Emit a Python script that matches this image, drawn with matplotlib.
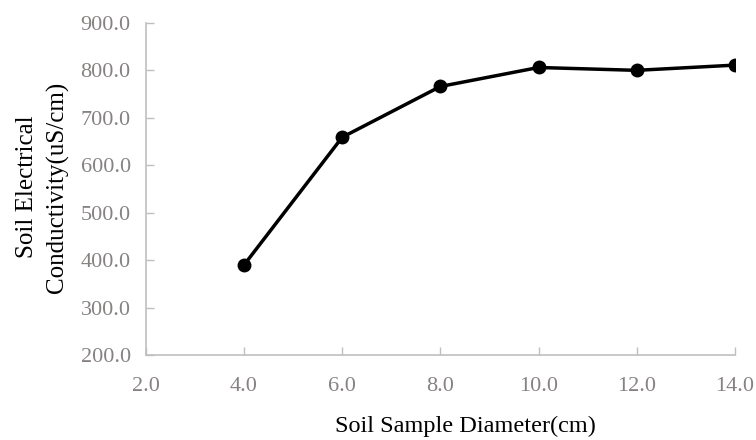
import matplotlib
matplotlib.use("Agg")
import matplotlib.pyplot as plt

diameters = [4.0, 6.0, 8.0, 10.0, 12.0, 14.0]
conductivity = [390, 659, 766, 806, 800, 811]
x_ticks = [2.0, 4.0, 6.0, 8.0, 10.0, 12.0, 14.0]
y_ticks = [200.0, 300.0, 400.0, 500.0, 600.0, 700.0, 800.0, 900.0]

plt.rcParams['font.family'] = ['Liberation Serif', 'DejaVu Serif']

fig = plt.figure(figsize=(7.56, 4.40), dpi=100)
ax = fig.add_axes([0.193, 0.193, 0.779, 0.755])

ax.plot(diameters, conductivity, color='black', linewidth=2.5, marker='o',
        markersize=9, markerfacecolor='black', markeredgecolor='black')

ax.set_xlim(2, 14)
ax.set_ylim(200, 900)
ax.set_xticks(x_ticks)
ax.set_yticks(y_ticks)
ax.set_xticklabels([f"{v:.1f}" for v in x_ticks])
ax.set_yticklabels([f"{v:.1f}" for v in y_ticks])

gray = '#bfbfbf'
for s in ['top', 'right']:
    ax.spines[s].set_visible(False)
for s in ['left', 'bottom']:
    ax.spines[s].set_color(gray)
    ax.spines[s].set_linewidth(1.2)

ax.tick_params(axis='both', direction='in', length=6, width=1.0, color=gray,
               labelcolor='#878282', labelsize=16)
ax.tick_params(axis='x', pad=16)
ax.tick_params(axis='y', pad=11)

ax.set_xlabel('Soil Sample Diameter(cm)', fontsize=17.5, color='black')
ax.xaxis.set_label_coords(0.543, -0.184)
ax.set_ylabel('Soil Electrical\nConductivity(uS/cm)', fontsize=18, color='black',
              linespacing=1.45)
ax.yaxis.set_label_coords(-0.13, 0.506)

fig.savefig('out.png', dpi=100)
